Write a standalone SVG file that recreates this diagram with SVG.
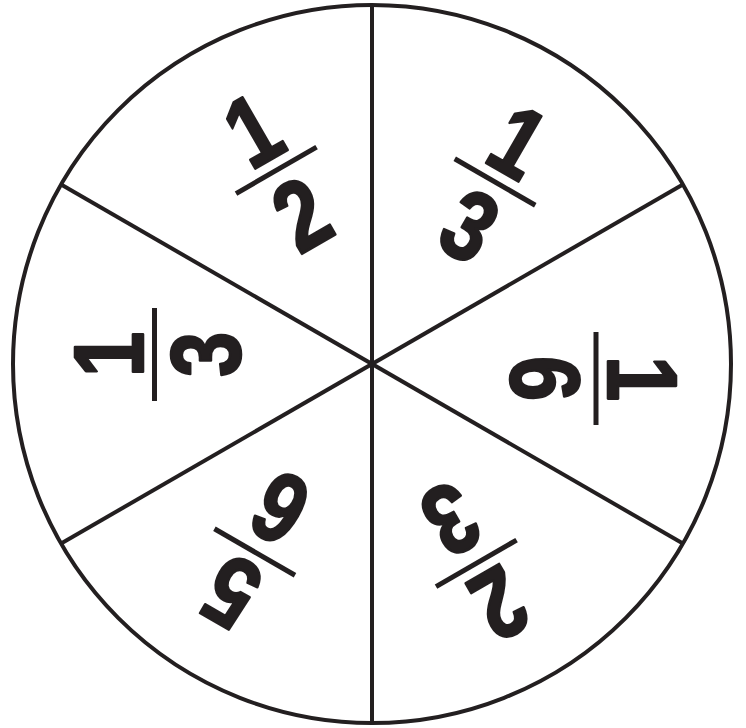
<svg xmlns="http://www.w3.org/2000/svg" width="746" height="728" viewBox="0 0 746 728">
<style>
.ln{stroke:#231f20;stroke-width:4;fill:none}
.bar{stroke:#231f20;stroke-width:5}
.dg{font-family:"Liberation Sans",Arial,sans-serif;font-weight:bold;font-size:99px;fill:#231f20;stroke:#231f20;stroke-width:2.6;stroke-linejoin:round;text-anchor:middle}
</style>
<rect width="746" height="728" fill="#fff"/>
<g id="wheel">
<circle class="ln" cx="372" cy="364" r="359"/>
</g>
<g id="connectors">
<line class="ln" x1="372" y1="5" x2="372" y2="723"/>
<line class="ln" x1="61.1" y1="184.5" x2="682.9" y2="543.5"/>
<line class="ln" x1="682.9" y1="184.5" x2="61.1" y2="543.5"/>
</g>
<g id="frac-top-left" transform="translate(276.3,170.3) rotate(-30)">
<line class="bar" x1="-46.5" y1="0" x2="46.5" y2="0"/>
<g transform="scale(0.82,1)"><text class="dg" x="0" y="-12">1</text><text class="dg" x="0" y="85">2</text></g>
</g>
<g id="frac-top-right" transform="translate(495,182) rotate(30)">
<line class="bar" x1="-46.5" y1="0" x2="46.5" y2="0"/>
<g transform="scale(0.82,1)"><text class="dg" x="0" y="-12">1</text><text class="dg" x="0" y="85">3</text></g>
</g>
<g id="frac-left" transform="translate(154.5,354.5) rotate(-90)">
<line class="bar" x1="-46.5" y1="0" x2="46.5" y2="0"/>
<g transform="scale(0.82,1)"><text class="dg" x="0" y="-12">1</text><text class="dg" x="0" y="85">3</text></g>
</g>
<g id="frac-right" transform="translate(596,378.5) rotate(90)">
<line class="bar" x1="-46.5" y1="0" x2="46.5" y2="0"/>
<g transform="scale(0.82,1)"><text class="dg" x="0" y="-12">1</text><text class="dg" x="0" y="85">6</text></g>
</g>
<g id="frac-bottom-left" transform="translate(254.7,552) rotate(210)">
<line class="bar" x1="-46.5" y1="0" x2="46.5" y2="0"/>
<g transform="scale(0.82,1)"><text class="dg" x="0" y="-12">5</text><text class="dg" x="0" y="85">6</text></g>
</g>
<g id="frac-bottom-right" transform="translate(476.3,563.3) rotate(150)">
<line class="bar" x1="-46.5" y1="0" x2="46.5" y2="0"/>
<g transform="scale(0.82,1)"><text class="dg" x="0" y="-12">2</text><text class="dg" x="0" y="85">3</text></g>
</g>
</svg>
